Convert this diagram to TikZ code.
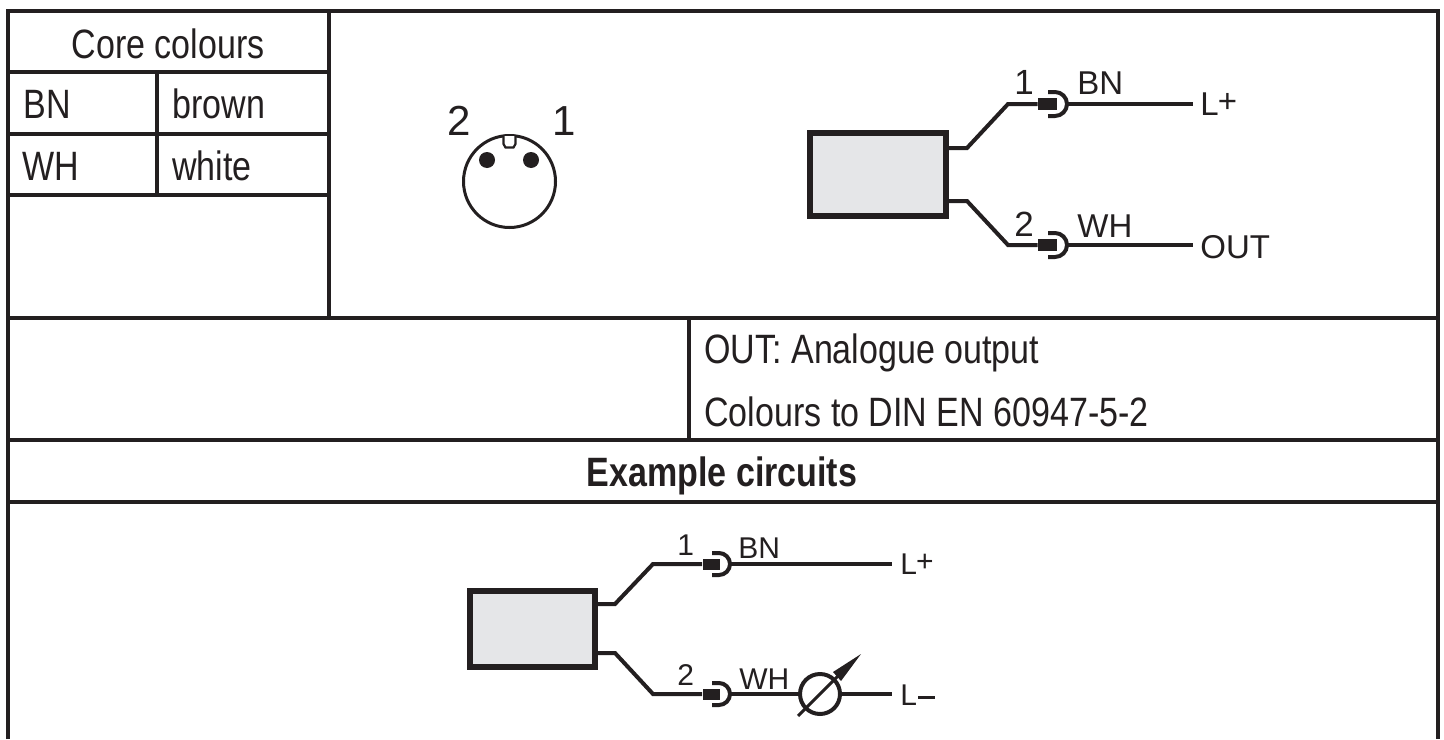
\documentclass[tikz,border=0pt]{standalone}
\usepackage{fontspec}
\setmainfont{Liberation Sans}[FakeStretch=0.83]
\newfontfamily\plainf{Liberation Sans}
\definecolor{ink}{HTML}{231F20}
\definecolor{boxgrey}{HTML}{E5E6E8}
\tikzset{
  gridline/.style={line width=2pt,draw=ink},
  wire/.style={line width=2pt,draw=ink,line join=miter},
  body/.style={draw=ink,fill=boxgrey,line width=3pt,inner sep=0pt},
  txt/.style={font=\fontsize{20.5}{22}\selectfont,text=ink,inner sep=0pt,anchor=base west},
  ctxt/.style={font=\fontsize{20.5}{22}\selectfont,text=ink,inner sep=0pt,anchor=base},
  biglab/.style={font=\plainf\fontsize{21}{23}\selectfont,text=ink,inner sep=0pt,anchor=base west},
  lab/.style={font=\plainf\fontsize{16.5}{18}\selectfont,text=ink,inner sep=0pt,anchor=base west},
  numlab/.style={font=\plainf\fontsize{17.5}{19}\selectfont,text=ink,inner sep=0pt,anchor=base west},
  smlab/.style={font=\plainf\fontsize{15}{17}\selectfont,text=ink,inner sep=0pt,anchor=base west},
  plug/.style={fill=ink,draw=none,inner sep=0pt,minimum width=9.5pt,minimum height=6pt},
  socket/.style={line width=2pt,draw=ink,line cap=butt},
}
\begin{document}
\begin{tikzpicture}[x=0.5pt,y=-0.5pt]
\useasboundingbox (0,0) rectangle (1444,739);
% frame
\draw[gridline] (7.5,739) -- (7.5,11) -- (1438,11) -- (1438,739);
\draw[gridline] (7.5,72) -- (329,72);
\draw[gridline] (7.5,134) -- (329,134);
\draw[gridline] (7.5,195) -- (329,195);
\draw[gridline] (7.5,318) -- (1438,318);
\draw[gridline] (7.5,440) -- (1438,440);
\draw[gridline] (7.5,502) -- (1438,502);
\draw[gridline] (329,11) -- (329,318);
\draw[gridline] (157,72) -- (157,195);
\draw[gridline] (689,318) -- (689,440);
% table text
\node[ctxt] (core) at (168,58) {Core colours};
\node[txt] (bn) at (23,118) {BN};
\node[txt] (brown) at (172,118) {brown};
\node[txt] (wh) at (22,180) {WH};
\node[txt] (white) at (172,180) {white};
\node[txt] (outtext) at (704,363) {OUT: Analogue output};
\node[txt] (coltext) at (704,426) {Colours to DIN EN 60947-5-2};
\node[ctxt] (ex) at (722,486) {\bfseries Example circuits};
% connector face
\node[circle,draw=ink,line width=1.5pt,minimum size=46pt,inner sep=0pt] (face) at (509.5,181.5) {};
\draw[line width=1.1pt,draw=ink,fill=white] (503.5,136) -- (503.5,144) -- (505.5,147.5) -- (513.5,147.5) -- (515.5,144) -- (515.5,136);
\fill[ink] (487,160) circle[radius=4pt];
\fill[ink] (531,160) circle[radius=4pt];
\node[biglab] (two) at (447,135) {2};
\node[biglab] (one) at (552,135) {1};
% top diagram
\node[body,minimum width=68pt,minimum height=41.5pt,anchor=north west] (box1) at (807,130) {};
\node[plug] (p1) at (1047.5,104) {};
\node[plug] (p2) at (1047.5,245) {};
\coordinate (s1) at (1067,104);
\coordinate (s2) at (1067,245);
\coordinate (e1) at (1193,104);
\coordinate (e2) at (1193,245);
\draw[wire] (box1.north east |- 0,148) -- (967,148) -- (1008,104) -- (p1.west);
\draw[wire] (box1.north east |- 0,201) -- (967,201) -- (1008,245) -- (p2.west);
\draw[socket] (1048,92) -- (1055,92) .. controls (1061.6,92) and (1067,97.4) .. (1067,104) .. controls (1067,110.6) and (1061.6,116) .. (1055,116) -- (1048,116);
\draw[socket] (1048,233) -- (1055,233) .. controls (1061.6,233) and (1067,238.4) .. (1067,245) .. controls (1067,251.6) and (1061.6,257) .. (1055,257) -- (1048,257);
\draw[wire] (s1) -- (e1);
\draw[wire] (s2) -- (e2);
\node[numlab] (n1) at (1014,94) {1};
\node[numlab] (n2) at (1014,236) {2};
\node[lab] (bn1) at (1077,94) {BN};
\node[lab] (wh1) at (1077,237) {WH};
\node[lab] (lplus) at (1200,115) {L\kern-0.5pt\raisebox{1.5pt}{+}};
\node[lab] (out1) at (1200,258) {OUT};
% bottom diagram
\node[body,minimum width=62.5pt,minimum height=38pt,anchor=north west] (box2) at (467,588) {};
\node[plug,minimum width=8.5pt,minimum height=5.5pt] (p3) at (711,564) {};
\node[plug,minimum width=8.5pt,minimum height=5.5pt] (p4) at (711,694) {};
\coordinate (s3) at (730,564);
\coordinate (s4) at (730,694);
\coordinate (e3) at (892,564);
\coordinate (e4) at (892,694);
\draw[wire] (box2.north east |- 0,604) -- (615,604) -- (653,564) -- (p3.west);
\draw[wire] (box2.north east |- 0,653) -- (615,653) -- (653,694) -- (p4.west);
\draw[socket] (712,553) -- (719,553) .. controls (725,553) and (730,558) .. (730,564) .. controls (730,570) and (725,575) .. (719,575) -- (712,575);
\draw[socket] (712,683) -- (719,683) .. controls (725,683) and (730,688) .. (730,694) .. controls (730,700) and (725,705) .. (719,705) -- (712,705);
\draw[wire] (s3) -- (e3);
\node[circle,draw=ink,line width=2pt,minimum size=20pt,inner sep=0pt] (meter) at (820,694) {};
\draw[wire] (s4) -- (meter.west);
\draw[wire] (meter.east) -- (e4);
\coordinate (mstart) at (798,716);
\coordinate (mend) at (838,676);
\coordinate (mtip) at (861,654);
\draw[line width=1.5pt,draw=ink] (mstart) -- (mend);
\fill[ink] (mtip) -- (833,672) -- (841,681) -- cycle;
\node[smlab] (n3) at (677,555) {1};
\node[smlab] (n4) at (677,685) {2};
\node[smlab] (bn2) at (738,558) {BN};
\node[smlab] (wh2) at (739,689) {WH};
\node[smlab] (lp2) at (900,574) {L\kern-0.5pt\raisebox{1.5pt}{+}};
\node[smlab] (lm2) at (900,705) {L\kern0.5pt\raisebox{3pt}{\rule{8.5pt}{1.4pt}}};
\end{tikzpicture}
\end{document}
